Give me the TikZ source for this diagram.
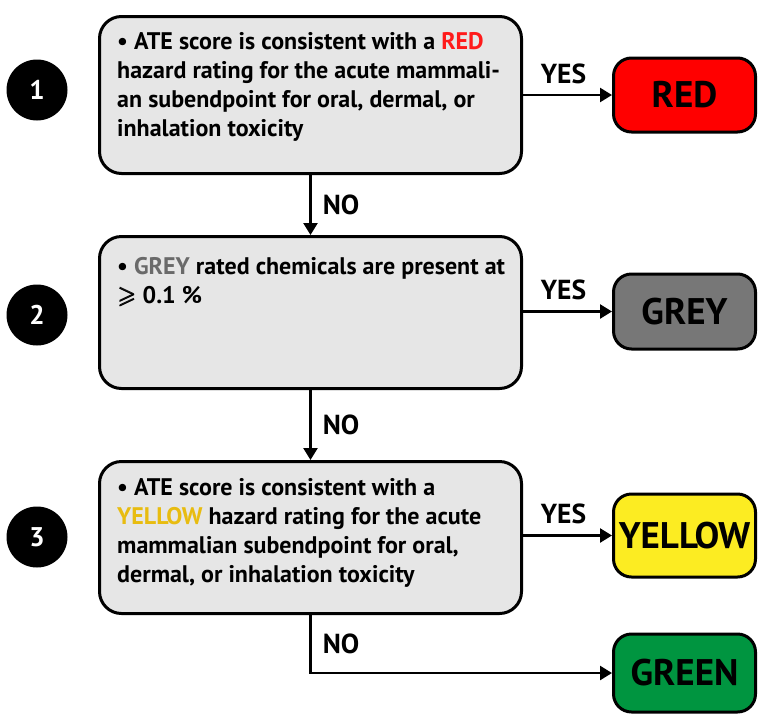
\documentclass[tikz,border=0pt]{standalone}
\usepackage{fontspec}
\setmainfont{PT Sans}
\usepackage{amsmath,amssymb}
\usetikzlibrary{arrows.meta}

\definecolor{boxfill}{HTML}{E6E6E6}
\definecolor{redbox}{HTML}{FF0000}
\definecolor{greybox}{HTML}{777777}
\definecolor{yellowbox}{HTML}{FCEC22}
\definecolor{greenbox}{HTML}{009540}
\definecolor{redtxt}{HTML}{FF1A1A}
\definecolor{greytxt}{HTML}{6A6A6A}
\definecolor{yellowtxt}{HTML}{E8BC10}

\begin{document}
\begin{tikzpicture}[x=1pt, y=-1pt,
  stepbox/.style={draw=black, line width=3pt, fill=boxfill, rounded corners=22pt,
    minimum width=422pt, inner sep=0pt},
  outcome/.style={draw=black, line width=3pt, rounded corners=18pt,
    minimum width=142pt, inner sep=0pt, font=\fontsize{37}{40}\selectfont\bfseries},
  num/.style={circle, fill=black, minimum size=61pt, inner sep=0pt, text=white,
    font=\fontsize{27}{30}\selectfont\bfseries},
  body/.style={anchor=base west, inner sep=0pt, font=\fontsize{24}{29}\selectfont\bfseries},
  flow/.style={line width=2.5pt, -{Triangle[length=12pt,width=14pt]}},
  tag/.style={font=\fontsize{27.5}{30}\selectfont\bfseries, inner sep=0pt}
]
\useasboundingbox (0,0) rectangle (759,715);

% decision boxes
\node[stepbox, minimum height=157pt] (b1) at (310.5,95) {};
\node[stepbox, minimum height=152pt] (b2) at (310.5,312.5) {};
\node[stepbox, minimum height=152pt] (b3) at (310.5,537.5) {};

% decision texts
\node[body] (t1) at (117,49) {\parbox[t]{400pt}{• ATE score is consistent with a \textcolor{redtxt}{RED}\\
hazard rating for the acute mammali-\\
an subendpoint for oral, dermal, or\\
inhalation toxicity}};
\node[body] (t2) at (117,274) {\parbox[t]{400pt}{• \textcolor{greytxt}{GREY} rated chemicals are present at\\
\pmb{$\geqslant$} 0.1 \%}};
\node[body] (t3) at (117,495) {\parbox[t]{400pt}{• ATE score is consistent with a\\
\textcolor{yellowtxt}{YELLOW} hazard rating for the acute\\
mammalian subendpoint for oral,\\
dermal, or inhalation toxicity}};

% step numbers
\node[num] (n1) at (37,90) {1};
\node[num] (n2) at (37,315) {2};
\node[num] (n3) at (37,537) {3};

% outcomes
\node[outcome, fill=redbox, minimum height=74pt] (red) at (684.5,95) {RED};
\node[outcome, fill=greybox, minimum height=75pt] (grey) at (684.5,311.5) {GREY};
\node[outcome, fill=yellowbox, minimum height=83pt] (yellow) at (684.5,535.5) {YELLOW};
\node[outcome, fill=greenbox, minimum height=78pt] (green) at (684.5,673) {GREEN};

% YES branches
\draw[flow] (b1.east |- red.west) -- node[tag, anchor=south, yshift=10pt, xshift=-4pt] {YES} (red.west);
\draw[flow] (b2.east |- grey.west) -- node[tag, anchor=south, yshift=10pt, xshift=-4pt] {YES} (grey.west);
\draw[flow] (b3.east |- yellow.west) -- node[tag, anchor=south, yshift=10pt, xshift=-4pt] {YES} (yellow.west);

% NO branches
\draw[flow] (b1.south) -- node[tag, anchor=west, xshift=11pt] {NO} (b2.north);
\draw[flow] (b2.south) -- node[tag, anchor=west, xshift=11pt] {NO} (b3.north);
\draw[flow] (b3.south) |- node[tag, anchor=west, xshift=11pt, pos=0.25] {NO} (green.west);
\end{tikzpicture}
\end{document}
